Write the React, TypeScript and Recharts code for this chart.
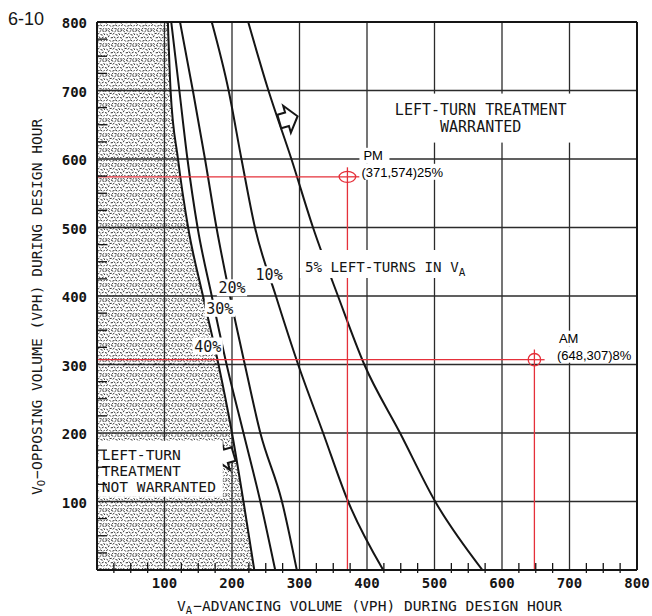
import React from 'react';
import { ComposedChart, Line, Area, XAxis, YAxis, ReferenceLine, ReferenceDot, Label } from 'recharts';

// ---- data ----
const VO_LEVELS = [800, 700, 600, 500, 400, 300, 200, 100, 0];
const VA_40 = [105, 109, 120, 135, 157, 180, 200, 217, 233];
const VA_30 = [110, 122, 134, 149, 170, 192, 217, 242, 264];
const VA_20 = [123, 142, 160, 177, 197, 219, 242, 274, 296];
const VA_10 = [170, 195, 214, 234, 265, 298, 335, 372, 424];
const VA_5 = [224, 254, 288, 320, 357, 396, 449, 501, 571];

const GRID_VALUES = [100, 200, 300, 400, 500, 600, 700];
const FRAME_MAX = 800;
const AXIS_TICKS = [0, 25, 50, 75, 100, 125, 150, 175, 200, 225, 250, 275, 300, 325, 350, 375, 400, 425, 450, 475, 500, 525, 550, 575, 600, 625, 650, 675, 700, 725, 750, 775, 800];
const TICK_LABELS = [100, 200, 300, 400, 500, 600, 700, 800];

const POINT_NAMES = ['PM', 'AM'];
const POINT_VA = [371, 648];
const POINT_VO = [574, 307];
const POINT_PCT = ['25%', '8%'];

const CURVE_LABEL_TEXT = ['40%', '30%', '20%', '10%'];
const CURVE_LABEL_VA = [164, 182, 200, 255];
const CURVE_LABEL_VO = [327, 382, 412, 431];

// ---- styles ----
const INK = '#151515';
const GRID = '#2b2b2b';
const RED = '#e5303a';
const MONO = '"DejaVu Sans Mono", monospace';
const SANS = '"Liberation Sans", Arial, sans-serif';

const POINT_STYLE: Record<string, { rx: number; ry: number; dx: number }> = {
  PM: { rx: 8.3, ry: 5.5, dx: 15 },
  AM: { rx: 6.2, ry: 6.2, dx: 23.5 },
};

const STIPPLE_PATH =
  'M0.5 1.2l1.4 -0.7 M3.4 0.8l1.2 1.0 M6.6 0.5l1.3 0.6 M9.8 1.6l1.1 -0.9 M12.6 0.9l1.4 0.4 ' +
  'M1.8 4.1l0.9 1.1 M4.9 3.6l1.5 -0.3 M8.0 4.3l1.0 -1.1 M10.9 4.6l1.4 0.5 M13.9 3.5l0.8 1.2 ' +
  'M0.3 7.6l1.3 0.5 M3.2 6.9l1.1 -1.0 M6.1 7.8l1.5 -0.2 M9.2 6.8l0.9 1.2 M12.1 7.9l1.3 -0.8 ' +
  'M1.5 10.6l1.2 -0.9 M4.6 10.2l1.0 1.1 M7.7 11.0l1.4 -0.4 M10.5 10.0l1.3 0.8 M13.6 11.1l1.0 -1.0 ' +
  'M0.6 13.9l1.4 0.2 M3.6 13.3l0.9 1.1 M6.8 14.2l1.2 -1.0 M9.9 13.6l1.5 0.3 M12.8 14.4l1.1 -0.9';

const curve = (va: number[]) => VO_LEVELS.map((vo, i) => ({ va: va[i], vo }));
const SHADE = [{ va: 0, vo: FRAME_MAX }, ...curve(VA_40)];

const XTick = (props: any) => {
  const { x, y, payload } = props;
  const v = payload.value;
  const onGrid = v === 0 || v === FRAME_MAX || GRID_VALUES.includes(v);
  return (
    <g>
      {!onGrid && <line x1={x} x2={x} y1={y - 7} y2={y + 3} stroke={INK} strokeWidth={1.3} />}
      {TICK_LABELS.includes(v) && (
        <text x={x} y={y + 18} textAnchor="middle" fontFamily={MONO} fontWeight="bold" fontSize={14} fill={INK}>{v}</text>
      )}
    </g>
  );
};

const YTick = (props: any) => {
  const { x, y, payload } = props;
  const v = payload.value;
  const onGrid = v === 0 || v === FRAME_MAX || GRID_VALUES.includes(v);
  return (
    <g>
      {!onGrid && <line x1={x - 1} x2={x + 10} y1={y} y2={y} stroke={INK} strokeWidth={1.3} />}
      {TICK_LABELS.includes(v) && (
        <text x={x - 10} y={y + 6} textAnchor="end" fontFamily={MONO} fontWeight="bold" fontSize={14} fill={INK}>{v}</text>
      )}
    </g>
  );
};

const XTitle = (props: any) => {
  const vb = props.viewBox || { x: 97, y: 570 };
  const x0 = vb.x + 80;
  const y0 = vb.y + 40.5;
  return (
    <text x={x0} y={y0} fontFamily={MONO} fontSize={14.6} fill={INK}>
      <tspan>V</tspan>
      <tspan fontSize={10.5} dy={3}>A</tspan>
      <tspan dy={-3} dx={1}>{'\u2212ADVANCING VOLUME (VPH) DURING DESIGN HOUR'}</tspan>
    </text>
  );
};

const YTitle = (props: any) => {
  const vb = props.viewBox || { x: 0, y: 22 };
  const x0 = vb.x + 42;
  const y0 = vb.y + 473;
  return (
    <g>
      <text x={8} y={25} fontFamily={SANS} fontSize={18} fill={INK}>6-10</text>
      <text x={x0} y={y0} transform={`rotate(-90, ${x0}, ${y0})`} fontFamily={MONO} fontSize={14.6} fill={INK}>
        <tspan>V</tspan>
        <tspan fontSize={10.5} dy={3}>O</tspan>
        <tspan dy={-3} dx={1}>{'\u2212OPPOSING VOLUME (VPH) DURING DESIGN HOUR'}</tspan>
      </text>
    </g>
  );
};

const curveLabelShape = (text: string) => (p: any) => {
  const w = text.length * 9.1 + 3;
  const h = 17;
  return (
    <g>
      <rect x={p.cx - w / 2} y={p.cy - h / 2} width={w} height={h} fill="#fff" />
      <text x={p.cx} y={p.cy + 5.5} textAnchor="middle" fontFamily={MONO} fontSize={15} fill={INK}>{text}</text>
    </g>
  );
};

const fivePctShape = (p: any) => (
  <g>
    <rect x={p.cx - 91} y={p.cy - 16} width={180} height={28} fill="#fff" />
    <text x={p.cx - 86} y={p.cy + 5.7} fontFamily={MONO} fontSize={14.2} fill={INK}>
      <tspan>5% LEFT-TURNS IN V</tspan>
      <tspan fontSize={11} dy={4}>A</tspan>
    </text>
  </g>
);

const warrantedShape = (p: any) => (
  <g>
    <rect x={p.cx - 93} y={p.cy - 25} width={187} height={49} fill="#fff" />
    <text x={p.cx} y={p.cy - 3.3} textAnchor="middle" fontFamily={MONO} fontSize={15} fill={INK}>LEFT-TURN TREATMENT</text>
    <text x={p.cx} y={p.cy + 13.4} textAnchor="middle" fontFamily={MONO} fontSize={15} fill={INK}>WARRANTED</text>
  </g>
);

const notWarrantedShape = (p: any) => (
  <g>
    <rect x={p.cx - 3} y={p.cy - 30} width={124} height={56} fill="#fff" />
    <text x={p.cx} y={p.cy - 11} fontFamily={MONO} fontSize={14.6} fill={INK}>LEFT-TURN</text>
    <text x={p.cx} y={p.cy + 5} fontFamily={MONO} fontSize={14.6} fill={INK}>TREATMENT</text>
    <text x={p.cx} y={p.cy + 21} fontFamily={MONO} fontSize={14.6} fill={INK}>NOT WARRANTED</text>
  </g>
);

const arrowShape = (angle: number) => (p: any) => (
  <polygon
    points="-8,-7 0,-7 0,-14 11,0 0,14 0,7 -8,7"
    transform={`translate(${p.cx}, ${p.cy}) rotate(${angle})`}
    fill="#fff"
    stroke={INK}
    strokeWidth={2}
    strokeLinejoin="miter"
  />
);

const pointShape = (name: string, va: number, vo: number, pct: string) => (p: any) => {
  const s = POINT_STYLE[name];
  const tx = p.cx + s.dx;
  const coords = `(${va},${vo})${pct}`;
  return (
    <g>
      <line x1={p.cx} x2={p.cx + s.rx + 4} y1={p.cy} y2={p.cy} stroke={RED} strokeWidth={1.3} />
      <line x1={p.cx} x2={p.cx} y1={p.cy} y2={p.cy - s.ry - 4} stroke={RED} strokeWidth={1.3} />
      <ellipse cx={p.cx} cy={p.cy} rx={s.rx} ry={s.ry} fill="none" stroke={RED} strokeWidth={1.3} />
      <rect x={tx - 3} y={p.cy - 29} width={30} height={16} fill="#fff" />
      <rect x={tx - 3} y={p.cy - 13} width={coords.length * 6.8 + 2} height={16} fill="#fff" />
      <text x={tx + 1} y={p.cy - 17} fontFamily={SANS} fontSize={13} fill="#000">{name}</text>
      <text x={tx - 1} y={p.cy} fontFamily={SANS} fontSize={13} fill="#000">{coords}</text>
    </g>
  );
};

export default function App() {
  const curves = [VA_40, VA_30, VA_20, VA_10, VA_5];
  return (
    <div style={{ position: 'absolute', left: 0, top: 0, width: 652, height: 616, background: '#fff' }}>
      <svg width={0} height={0} style={{ position: 'absolute' }}>
        <defs>
          <pattern id="stipple" width="15" height="15" patternUnits="userSpaceOnUse">
            <path d={STIPPLE_PATH} stroke="#262626" strokeWidth={0.95} fill="none" strokeLinecap="round" />
          </pattern>
        </defs>
      </svg>
      <ComposedChart width={652} height={616} margin={{ top: 22, right: 15, bottom: 0, left: 0 }}>
        <XAxis
          type="number"
          dataKey="va"
          domain={[0, FRAME_MAX]}
          ticks={AXIS_TICKS}
          interval={0}
          height={46}
          tickSize={0}
          tickMargin={0}
          tickLine={false}
          tick={<XTick />}
          axisLine={{ stroke: INK, strokeWidth: 2 }}
          allowDataOverflow
        >
          <Label content={<XTitle />} />
        </XAxis>
        <YAxis
          type="number"
          domain={[0, FRAME_MAX]}
          ticks={AXIS_TICKS}
          interval={0}
          width={97}
          tickSize={0}
          tickMargin={0}
          tickLine={false}
          tick={<YTick />}
          axisLine={{ stroke: INK, strokeWidth: 2 }}
          allowDataOverflow
        >
          <Label content={<YTitle />} />
        </YAxis>

        {GRID_VALUES.map((v) => (
          <ReferenceLine key={`gx${v}`} x={v} stroke={GRID} strokeWidth={1.3} />
        ))}
        {GRID_VALUES.map((v) => (
          <ReferenceLine key={`gy${v}`} y={v} stroke={GRID} strokeWidth={1.3} />
        ))}
        <ReferenceLine x={FRAME_MAX} stroke={INK} strokeWidth={2} />
        <ReferenceLine y={FRAME_MAX} stroke={INK} strokeWidth={2} />

        <Area
          data={SHADE}
          dataKey="vo"
          type="monotone"
          fill="url(#stipple)"
          fillOpacity={1}
          stroke="none"
          baseValue={0}
          isAnimationActive={false}
        />

        {curves.map((c, i) => (
          <Line
            key={`c${i}`}
            data={curve(c)}
            dataKey="vo"
            type="monotone"
            stroke={INK}
            strokeWidth={2}
            dot={false}
            activeDot={false}
            isAnimationActive={false}
          />
        ))}

        {POINT_NAMES.map((n, i) => (
          <ReferenceLine
            key={`h${n}`}
            segment={[{ x: 0, y: POINT_VO[i] }, { x: POINT_VA[i], y: POINT_VO[i] }]}
            stroke={RED}
            strokeWidth={1.3}
          />
        ))}
        {POINT_NAMES.map((n, i) => (
          <ReferenceLine
            key={`v${n}`}
            segment={[{ x: POINT_VA[i], y: 0 }, { x: POINT_VA[i], y: POINT_VO[i] }]}
            stroke={RED}
            strokeWidth={1.3}
          />
        ))}

        <ReferenceDot x={281.5} y={658} shape={arrowShape(-16)} />
        <ReferenceDot x={191} y={166} shape={arrowShape(164)} />

        {CURVE_LABEL_TEXT.map((t, i) => (
          <ReferenceDot key={`l${t}`} x={CURVE_LABEL_VA[i]} y={CURVE_LABEL_VO[i]} shape={curveLabelShape(t)} />
        ))}
        <ReferenceDot x={435.5} y={443.8} shape={fivePctShape} />
        <ReferenceDot x={568.4} y={659} shape={warrantedShape} />
        <ReferenceDot x={7} y={144.8} shape={notWarrantedShape} />

        {POINT_NAMES.map((n, i) => (
          <ReferenceDot
            key={`p${n}`}
            x={POINT_VA[i]}
            y={POINT_VO[i]}
            shape={pointShape(n, POINT_VA[i], POINT_VO[i], POINT_PCT[i])}
          />
        ))}
      </ComposedChart>
    </div>
  );
}
